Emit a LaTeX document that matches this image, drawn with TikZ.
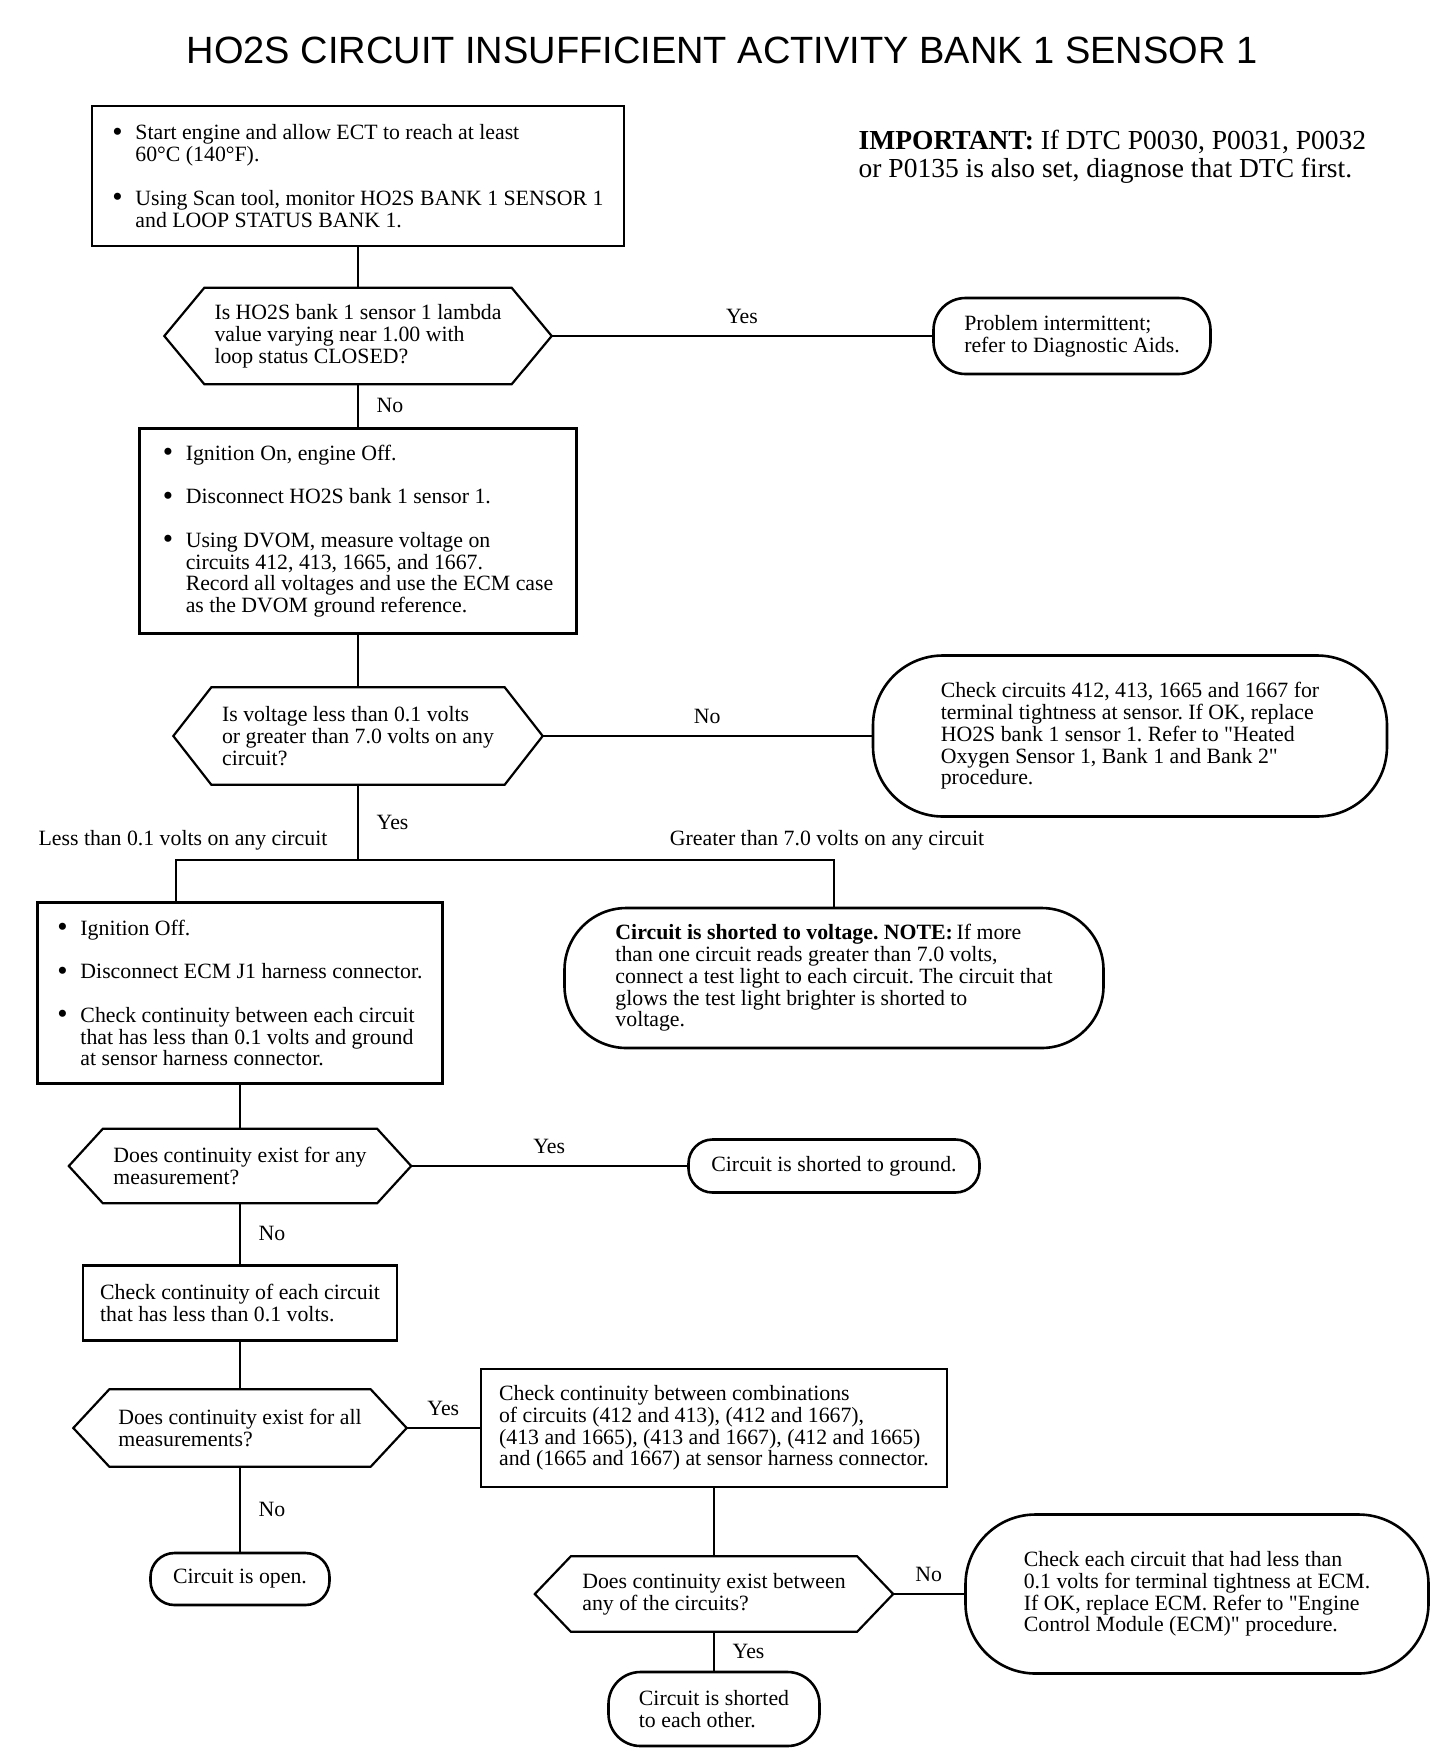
\documentclass[tikz,border=0pt]{standalone}
\usepackage{fontspec}
\setmainfont{Liberation Serif}[Ligatures=TeXOff]
\newfontfamily\headfont{Liberation Sans}
\frenchspacing

\newcommand{\txtsize}{\fontsize{21.8}{21.8}\selectfont}
\newcommand{\bul}{\makebox[23pt][l]{\raisebox{-0.15ex}{\scalebox{1.35}{\textbullet}}}}
\newcommand{\ind}{\hspace*{23pt}}
% hexagon round a plain node: #1 node name, #2 inset of the points
\newcommand{\hexpath}[2]{%
  \draw[hexline] (#1.west) -- ([xshift=#2]#1.north west) -- ([xshift=-#2]#1.north east)
    -- (#1.east) -- ([xshift=-#2]#1.south east) -- ([xshift=#2]#1.south west) -- cycle;}

\begin{document}
\begin{tikzpicture}[x=1pt, y=-1pt, line width=1.4pt, font=\txtsize,
        box/.style={draw, line width=2.2pt, inner sep=0pt, align=left},
        decision/.style={inner sep=0pt, align=left},
        hexline/.style={line width=2.2pt, line join=miter},
        endbox/.style={draw, line width=2.6pt, rounded corners=#1, inner sep=0pt, align=left},
        lbl/.style={inner sep=0pt, text depth=0pt}]
        \useasboundingbox (0,0) rectangle (1456,1754);

        \node (title) at (722,50) {\headfont\fontsize{38}{38}\selectfont HO2S CIRCUIT INSUFFICIENT ACTIVITY BANK 1 SENSOR 1};

        \node[box, minimum width=532pt, minimum height=140pt] (start) at (358,176)
            {\bul Start engine and allow ECT to reach at least\\
             \ind 60°C (140°F).\\[21.8pt]
             \bul Using Scan tool, monitor HO2S BANK 1 SENSOR 1\\
             \ind and LOOP STATUS BANK 1.};
        \node[anchor=west, align=left, inner sep=0pt, font=\fontsize{27.5}{27.5}\selectfont] (note) at (858,157)
            {\textbf{IMPORTANT:} If DTC P0030, P0031, P0032\\or P0135 is also set, diagnose that DTC first.};

        \node[decision, minimum width=386pt, minimum height=95pt] (lambda) at (358,336)
            {Is HO2S bank 1 sensor 1 lambda\\value varying near 1.00 with\\loop status CLOSED?};
        \node[endbox=32pt, minimum width=277pt, minimum height=76pt] (intermit) at (1072,336)
            {Problem intermittent;\\refer to Diagnostic Aids.};

        \node[box, minimum width=437pt, minimum height=205pt] (ign) at (358,531)
            {\bul Ignition On, engine Off.\\[21.8pt]
             \bul Disconnect HO2S bank 1 sensor 1.\\[21.8pt]
             \bul Using DVOM, measure voltage on\\
             \ind circuits 412, 413, 1665, and 1667.\\
             \ind Record all voltages and use the ECM case\\
             \ind as the DVOM ground reference.};

        \node[decision, minimum width=368pt, minimum height=96pt] (volt) at (358,736)
            {Is voltage less than 0.1 volts\\or greater than 7.0 volts on any\\circuit?};
        \node[endbox=70pt, minimum width=514pt, minimum height=161pt] (ckterm) at (1130,736)
            {Check circuits 412, 413, 1665 and 1667 for\\
             terminal tightness at sensor. If OK, replace\\
             HO2S bank 1 sensor 1. Refer to "Heated\\
             Oxygen Sensor 1, Bank 1 and Bank 2"\\
             procedure.};

        \coordinate (split) at (358,860);
        \coordinate (lowleg) at (176,860);
        \coordinate (highleg) at (834,860);

        \node[box, minimum width=405pt, minimum height=181pt] (ign3) at (240,993)
            {\bul Ignition Off.\\[21.8pt]
             \bul Disconnect ECM J1 harness connector.\\[21.8pt]
             \bul Check continuity between each circuit\\
             \ind that has less than 0.1 volts and ground\\
             \ind at sensor harness connector.};
        \node[endbox=62pt, minimum width=539pt, minimum height=140pt] (shortv) at (834,978)
            {\textbf{Circuit is shorted to voltage. NOTE:}\,If more\\
             than one circuit reads greater than 7.0 volts,\\
             connect a test light to each circuit. The circuit that\\
             glows the test light brighter is shorted to\\
             voltage.};

        \node[decision, minimum width=341pt, minimum height=73pt] (anyc) at (240,1166)
            {Does continuity exist for any\\measurement?};
        \node[endbox=24pt, minimum width=291pt, minimum height=53pt] (shortg) at (834,1166)
            {Circuit is shorted to ground.};

        \node[box, minimum width=314pt, minimum height=75pt] (eachc) at (240,1303)
            {Check continuity of each circuit\\that has less than 0.1 volts.};

        \node[decision, minimum width=332pt, minimum height=76pt] (allc) at (240,1428)
            {Does continuity exist for all\\measurements?};
        \node[box, minimum width=466pt, minimum height=118pt] (combo) at (714,1428)
            {Check continuity between combinations\\
             of circuits (412 and 413), (412 and 1667),\\
             (413 and 1665), (413 and 1667), (412 and 1665)\\
             and (1665 and 1667) at sensor harness connector.};

        \node[endbox=24pt, minimum width=179pt, minimum height=52pt] (openc) at (240,1579)
            {Circuit is open.};

        \node[decision, minimum width=357pt, minimum height=74pt] (betw) at (714,1594)
            {Does continuity exist between\\any of the circuits?};
        \node[endbox=70pt, minimum width=463pt, minimum height=159pt] (ecmchk) at (1197,1594)
            {Check each circuit that had less than\\
             0.1 volts for terminal tightness at ECM.\\
             If OK, replace ECM. Refer to "Engine\\
             Control Module (ECM)" procedure.};
        \node[endbox=32pt, minimum width=211pt, minimum height=74pt] (eachother) at (714,1709)
            {Circuit is shorted\\to each other.};

        \hexpath{lambda}{40pt}
        \hexpath{volt}{38pt}
        \hexpath{anyc}{34pt}
        \hexpath{allc}{36pt}
        \hexpath{betw}{36pt}

        \path (start) edge (lambda)
        (lambda) edge node[lbl, above=12pt] {Yes} (intermit)
        (lambda) edge node[lbl, right=18pt] {No} (ign)
        (ign) edge (volt)
        (volt) edge node[lbl, above=12pt] {No} (ckterm)
        ;

        \draw (volt) -- node[lbl, right=18pt] {Yes} (split) -- (lowleg) -- (lowleg |- ign3.north);
        \draw (split) -- (highleg) -- (shortv);
        \path (lowleg) node[lbl, above=14pt, xshift=7pt] {Less than 0.1 volts on any circuit}
        (highleg) node[lbl, above=14pt, xshift=-7pt] {Greater than 7.0 volts on any circuit};

        \path (ign3) edge (anyc)
        (anyc) edge node[lbl, above=12pt] {Yes} (shortg)
        (anyc) edge node[lbl, right=18pt] {No} (eachc)
        (eachc) edge (allc)
        (allc) edge node[lbl, above=12pt] {Yes} (combo)
        (allc) edge node[lbl, right=18pt] {No} (openc)
        (combo) edge (betw)
        (betw) edge node[lbl, above=12pt] {No} (ecmchk)
        (betw) edge node[lbl, right=18pt] {Yes} (eachother)
        ;
    \end{tikzpicture}
\end{document}
